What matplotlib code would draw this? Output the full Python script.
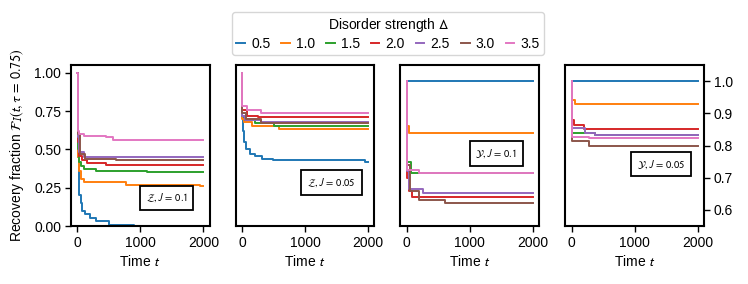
import matplotlib
matplotlib.use("Agg")
import matplotlib.pyplot as plt

plt.rcParams['font.family'] = ['Liberation Sans', 'DejaVu Sans']
plt.rcParams['mathtext.fontset'] = 'stixsans'
plt.rcParams['font.size'] = 10

deltas = ["0.5", "1.0", "1.5", "2.0", "2.5", "3.0", "3.5"]
colors = ["#1f77b4", "#ff7f0e", "#2ca02c", "#d62728", "#9467bd", "#8c564b", "#e377c2"]
t_end = 2000
panel_labels = [r"$\mathcal{Z}, J\,=\,0.1$", r"$\mathcal{Z}, J\,=\,0.05$",
                r"$\mathcal{Y}, J\,=\,0.1$", r"$\mathcal{Y}, J\,=\,0.05$"]

# Panel 1: Z, J=0.1  (step times, values)
z01_t = [
    [0, 5, 10, 20, 30, 50, 80, 120, 200, 300, 500, 900],
    [0, 5, 20, 50, 100, 770, 1950],
    [0, 5, 20, 50, 100, 300, 1100],
    [0, 5, 30, 80, 150, 460],
    [0, 5, 30, 100],
    [0, 5, 40, 120, 620],
    [0, 5, 30, 100, 460, 570],
]
z01_v = [
    [1.0, 0.7, 0.45, 0.3, 0.2, 0.15, 0.1, 0.08, 0.05, 0.03, 0.01, 0.0],
    [1.0, 0.45, 0.36, 0.31, 0.29, 0.27, 0.26],
    [1.0, 0.5, 0.42, 0.39, 0.37, 0.36, 0.35],
    [1.0, 0.55, 0.46, 0.43, 0.41, 0.40],
    [1.0, 0.58, 0.48, 0.45],
    [1.0, 0.6, 0.47, 0.44, 0.43],
    [1.0, 0.62, 0.60, 0.59, 0.58, 0.56],
]

# Panel 2: Z, J=0.05
z005_t = [
    [0, 5, 15, 30, 60, 120, 200, 320, 490, 1950],
    [0, 5, 30, 150, 590],
    [0, 5, 40, 200, 510],
    [0, 5, 80, 250],
    [0, 5, 50, 300],
    [0, 5, 60, 300],
    [0, 5, 80, 300],
]
z005_v = [
    [1.0, 0.72, 0.62, 0.55, 0.50, 0.47, 0.455, 0.44, 0.43, 0.42],
    [1.0, 0.70, 0.68, 0.65, 0.63],
    [1.0, 0.72, 0.69, 0.67, 0.652],
    [1.0, 0.76, 0.72, 0.708],
    [1.0, 0.72, 0.69, 0.678],
    [1.0, 0.74, 0.70, 0.672],
    [1.0, 0.78, 0.755, 0.74],
]

# Panel 3: Y, J=0.1
y01_t = [
    [0],
    [0, 10, 40],
    [0, 10, 60],
    [0, 10, 30, 80],
    [0, 10, 40, 250],
    [0, 10, 50, 200, 605],
    [0, 10, 200],
]
y01_v = [
    [1.0],
    [1.0, 0.86, 0.84],
    [1.0, 0.75, 0.714],
    [1.0, 0.70, 0.66, 0.641],
    [1.0, 0.72, 0.665, 0.652],
    [1.0, 0.74, 0.66, 0.631, 0.621],
    [1.0, 0.724, 0.714],
]

# Panel 4: Y, J=0.05
y005_t = [
    [0],
    [0, 15, 60],
    [0, 15, 90, 380],
    [0, 10, 40, 200],
    [0, 15, 220, 380],
    [0, 15, 280],
    [0, 15, 280],
]
y005_v = [
    [1.0],
    [1.0, 0.94, 0.93],
    [1.0, 0.84, 0.838, 0.833],
    [1.0, 0.88, 0.865, 0.85],
    [1.0, 0.855, 0.840, 0.833],
    [1.0, 0.815, 0.80],
    [1.0, 0.826, 0.822],
]

panels = [(z01_t, z01_v), (z005_t, z005_v), (y01_t, y01_v), (y005_t, y005_v)]

fig = plt.figure(figsize=(7.48, 2.84), dpi=100)
axes = fig.subplots(1, 4)
fig.subplots_adjust(left=0.095, right=0.941, top=0.771, bottom=0.204, wspace=0.188)

box_y = [0.175, 0.27, 0.45, 0.385]
handles = []
for i, (ax, (ts, vs)) in enumerate(zip(axes, panels)):
    for k in range(len(deltas)):
        t = list(ts[k]) + [t_end]
        v = list(vs[k]) + [vs[k][-1]]
        h, = ax.step(t, v, where='post', color=colors[k], lw=1.4, label=deltas[k])
        if i == 0:
            handles.append(h)
    ax.set_xlim(-100, 2100)
    ax.set_xticks([0, 1000, 2000])
    ax.set_xlabel(r"Time $t$", fontsize=10, labelpad=3)
    for sp in ax.spines.values():
        sp.set_linewidth(1.5)
    ax.tick_params(width=1.0, length=4, labelsize=10, pad=3)
    ax.text(0.69, box_y[i], panel_labels[i], transform=ax.transAxes,
            ha='center', va='center', fontsize=7.5,
            bbox=dict(boxstyle='square,pad=0.55', fc='white', ec='black', lw=1.3))

axes[0].set_ylim(0, 1.05)
axes[0].set_yticks([0, 0.25, 0.5, 0.75, 1.0])
axes[0].set_yticklabels(["0.00", "0.25", "0.50", "0.75", "1.00"])
axes[0].set_ylabel(r"Recovery fraction $\mathcal{F}_I(t, \tau\,=\,0.75)$", fontsize=10, labelpad=6)
axes[1].set_ylim(0, 1.05)
axes[1].set_yticks([])
axes[2].set_ylim(0.55, 1.05)
axes[2].set_yticks([])
axes[3].set_ylim(0.55, 1.05)
axes[3].set_yticks([0.6, 0.7, 0.8, 0.9, 1.0])
axes[3].yaxis.tick_right()

fig.legend(handles=handles, labels=deltas, title=r"Disorder strength $\Delta$",
           loc='upper center', bbox_to_anchor=(0.519, 0.958), ncol=7,
           fontsize=10, title_fontsize=10, handlelength=0.6, handletextpad=0.45,
           columnspacing=0.8, frameon=True, borderpad=0.3, labelspacing=0.2,
           borderaxespad=0.0)

fig.savefig("out.png", dpi=100)
